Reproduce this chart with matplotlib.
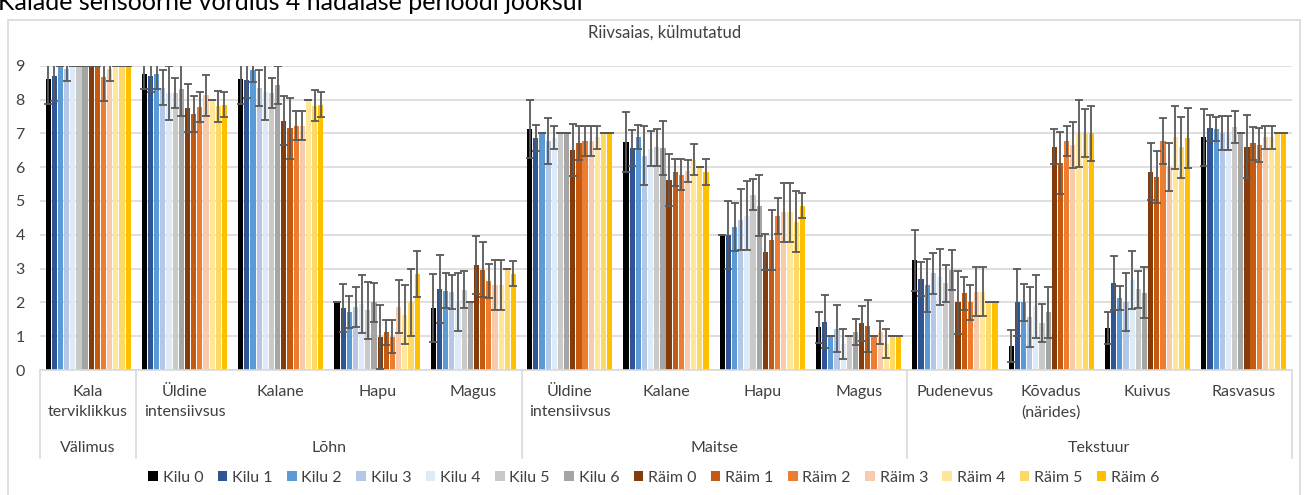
import matplotlib.pyplot as plt
import matplotlib.transforms as mtransforms
from matplotlib.patches import Rectangle
import numpy as np

plt.rcParams['font.family'] = ['Lato', 'DejaVu Sans']

# attribute labels and their groups
attributes = ["Kala\nterviklikkus", "Üldine\nintensiivsus", "Kalane", "Hapu", "Magus",
              "Üldine\nintensiivsus", "Kalane", "Hapu", "Magus",
              "Pudenevus", "Kõvadus\n(närides)", "Kuivus", "Rasvasus"]
groups = ["Välimus", "Lõhn", "Maitse", "Tekstuur"]
group_sizes = [1, 4, 4, 4]

series_names = ["Kilu 0", "Kilu 1", "Kilu 2", "Kilu 3", "Kilu 4", "Kilu 5", "Kilu 6",
                "Räim 0", "Räim 1", "Räim 2", "Räim 3", "Räim 4", "Räim 5", "Räim 6"]

# mean scores
kilu0 = [8.61, 8.75, 8.61, 2.0, 1.84, 7.13, 6.75, 4.0, 1.26, 3.24, 0.72, 1.24, 6.88]
kilu1 = [8.71, 8.70, 8.57, 1.83, 2.40, 6.86, 6.57, 4.0, 1.43, 2.68, 2.0, 2.56, 7.15]
kilu2 = [9.0, 8.76, 8.88, 1.72, 2.35, 7.0, 6.89, 4.24, 1.0, 2.50, 2.0, 2.13, 7.13]
kilu3 = [8.89, 8.35, 8.34, 1.86, 2.31, 6.77, 6.34, 4.44, 1.22, 2.86, 1.57, 2.0, 7.0]
kilu4 = [9.0, 8.2, 8.22, 1.95, 2.0, 6.87, 6.55, 4.56, 0.78, 2.74, 1.89, 2.66, 7.0]
kilu5 = [9.0, 8.2, 8.19, 1.77, 2.38, 7.0, 6.59, 5.19, 1.0, 2.57, 1.40, 2.39, 7.18]
kilu6 = [9.0, 8.30, 8.43, 2.0, 2.0, 7.0, 6.57, 4.86, 1.13, 2.97, 1.71, 2.29, 7.0]
raim0 = [9.0, 7.74, 7.37, 0.98, 3.11, 6.50, 5.62, 3.49, 1.38, 2.0, 6.61, 5.86, 6.61]
raim1 = [9.0, 7.56, 7.15, 1.12, 2.97, 6.71, 5.85, 3.85, 1.30, 2.27, 6.13, 5.71, 6.70]
raim2 = [8.67, 7.78, 7.22, 0.98, 2.64, 6.77, 5.78, 4.56, 1.0, 2.0, 6.77, 6.77, 6.65]
raim3 = [8.89, 8.12, 7.22, 1.87, 2.51, 6.77, 5.89, 4.66, 1.11, 2.32, 6.65, 6.01, 6.88]
raim4 = [9.0, 8.0, 8.0, 1.64, 2.51, 6.88, 6.22, 4.66, 0.78, 2.32, 7.0, 6.88, 6.88]
raim5 = [9.0, 7.80, 7.81, 2.0, 3.0, 7.0, 6.0, 4.39, 1.0, 2.0, 7.0, 6.59, 7.0]
raim6 = [9.0, 7.85, 7.85, 2.84, 2.84, 7.0, 5.85, 4.86, 1.0, 2.0, 7.0, 6.86, 7.0]

# standard deviations
kilu0_sd = [0.74, 0.45, 0.74, 0.0, 1.0, 0.85, 0.88, 0.0, 0.46, 0.89, 0.47, 0.47, 0.84]
kilu1_sd = [0.75, 0.48, 0.53, 0.70, 1.0, 0.38, 0.54, 1.0, 0.79, 0.50, 1.0, 0.80, 0.38]
kilu2_sd = [0.0, 0.46, 0.35, 0.47, 0.53, 0.0, 0.36, 0.71, 0.0, 0.77, 0.54, 0.36, 0.36]
kilu3_sd = [0.33, 0.52, 0.52, 0.60, 0.51, 0.68, 0.87, 0.90, 0.69, 0.61, 0.88, 0.86, 0.50]
kilu4_sd = [0.0, 0.8, 0.82, 0.86, 0.86, 0.34, 0.53, 1.02, 0.44, 0.83, 0.93, 0.87, 0.50]
kilu5_sd = [0.0, 0.45, 0.45, 0.84, 0.56, 0.0, 0.55, 0.45, 0.0, 0.55, 0.56, 0.55, 0.47]
kilu6_sd = [0.0, 0.78, 0.55, 0.57, 0.0, 0.0, 0.80, 0.90, 0.38, 0.59, 0.75, 0.75, 0.0]
raim0_sd = [0.0, 0.71, 0.73, 0.95, 0.85, 0.77, 0.76, 0.54, 0.52, 0.93, 0.53, 0.84, 0.92]
raim1_sd = [0.0, 0.53, 0.90, 0.37, 0.82, 0.50, 0.40, 0.89, 0.76, 0.49, 0.91, 0.76, 0.50]
raim2_sd = [0.70, 0.45, 0.43, 0.49, 0.50, 0.44, 0.45, 0.53, 0.0, 0.52, 0.45, 0.68, 0.50]
raim3_sd = [0.33, 0.60, 0.43, 0.78, 0.73, 0.44, 0.33, 0.87, 0.33, 0.72, 0.68, 0.71, 0.33]
raim4_sd = [0.0, 0.0, 0.0, 0.87, 0.73, 0.33, 0.45, 0.87, 0.43, 0.72, 1.0, 0.93, 0.33]
raim5_sd = [0.0, 0.46, 0.46, 1.0, 0.0, 0.0, 0.0, 0.91, 0.0, 0.0, 0.71, 0.90, 0.0]
raim6_sd = [0.0, 0.38, 0.38, 0.69, 0.37, 0.0, 0.39, 0.37, 0.0, 0.0, 0.81, 0.90, 0.0]

means = [kilu0, kilu1, kilu2, kilu3, kilu4, kilu5, kilu6,
         raim0, raim1, raim2, raim3, raim4, raim5, raim6]
sds = [kilu0_sd, kilu1_sd, kilu2_sd, kilu3_sd, kilu4_sd, kilu5_sd, kilu6_sd,
       raim0_sd, raim1_sd, raim2_sd, raim3_sd, raim4_sd, raim5_sd, raim6_sd]

colors = ["#000000", "#2F5597", "#5B9BD5", "#B4C7E7", "#DEEBF7", "#C9C9C9", "#A5A5A5",
          "#843C0C", "#C55A11", "#ED7D31", "#F8CBAD", "#FFE699", "#FFD966", "#FFC000"]
text_col = '#404040'

fig = plt.figure(figsize=(13.08, 4.95), dpi=100)
ax = fig.add_axes([40 / 1308, 125 / 495, 1252 / 1308, 304.3 / 495])

n = len(means)
slot = 0.895 / n
x = np.arange(len(attributes))
for i, (m, s) in enumerate(zip(means, sds)):
    pos = x - 0.895 / 2 + slot * (i + 0.5)
    ax.bar(pos, m, width=slot * 0.84, color=colors[i], label=series_names[i], zorder=2)
    ax.errorbar(pos, m, yerr=s, fmt='none', ecolor='#595959', elinewidth=1.3,
                capsize=2.6, capthick=1.3, zorder=3)

ax.set_xlim(-0.5, len(attributes) - 0.5)
ax.set_ylim(0, 9)
ax.set_yticks(range(10))
ax.tick_params(axis='y', length=0, labelsize=11.5, colors=text_col, pad=11)
ax.set_xticks([])
ax.yaxis.grid(True, color='#D9D9D9', linewidth=1.2, zorder=0)
ax.set_axisbelow(True)
for side in ['left', 'right', 'top']:
    ax.spines[side].set_visible(False)
ax.spines['bottom'].set_color('#D9D9D9')
ax.spines['bottom'].set_linewidth(1.2)

fig.text(665 / 1308, 1 - 33 / 495, "Riivsaias, külmutatud", ha='center', va='center',
         fontsize=12, color=text_col)

# two-level category axis
trans = mtransforms.blended_transform_factory(ax.transData, ax.transAxes)
for i, lab in enumerate(attributes):
    ax.text(i, -0.05, lab, transform=trans, ha='center', va='top',
            fontsize=11.5, color=text_col, linespacing=1.5)
edges = np.cumsum([0] + group_sizes) - 0.5
for k, g in enumerate(groups):
    mid = (edges[k] + edges[k + 1]) / 2
    ax.text(mid, -0.255, g, transform=trans, ha='center', va='center',
            fontsize=11.5, color=text_col)
for e in edges:
    ax.plot([e, e], [0, -0.29], transform=trans, color='#D9D9D9',
            linewidth=1.2, clip_on=False)

fig.legend(loc='center', bbox_to_anchor=(0.5, 17 / 495), ncol=14, frameon=False,
           fontsize=11.5, handlelength=0.6, handleheight=0.6, handletextpad=0.3,
           columnspacing=0.9, labelcolor=text_col)

fig.patches.append(Rectangle((8 / 1308, -0.01), 1292 / 1308, 475 / 495 + 0.01,
                             transform=fig.transFigure, fill=False,
                             edgecolor='#D9D9D9', linewidth=1.2))
fig.text(-2 / 1308, 1 - 10 / 495, "Kalade sensoorne võrdlus 4 nädalase perioodi jooksul",
         ha='left', va='baseline', fontsize=18, color='#000000')

fig.savefig("out.png", dpi=100)
